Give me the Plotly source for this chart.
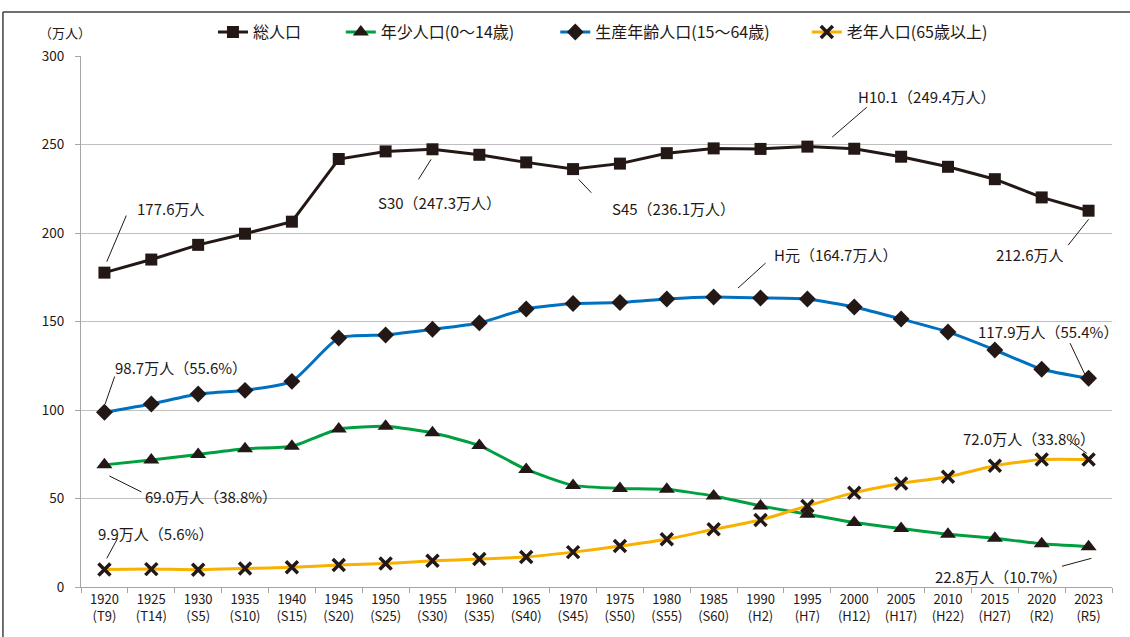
import plotly.graph_objects as go

years = ["1920", "1925", "1930", "1935", "1940", "1945", "1950", "1955", "1960", "1965", "1970",
         "1975", "1980", "1985", "1990", "1995", "2000", "2005", "2010", "2015", "2020", "2023"]
eras = ["T9", "T14", "S5", "S10", "S15", "S20", "S25", "S30", "S35", "S40", "S45",
        "S50", "S55", "S60", "H2", "H7", "H12", "H17", "H22", "H27", "R2", "R5"]

total = [177.6, 185.0, 193.3, 199.6, 206.4, 241.8, 246.1, 247.3, 244.2, 239.9, 236.1,
         239.2, 245.1, 247.8, 247.5, 248.8, 247.6, 243.1, 237.4, 230.4, 220.1, 212.6]
youth = [69.0, 71.7, 74.9, 78.1, 79.5, 89.3, 90.8, 87.1, 79.9, 66.4, 57.4,
         55.7, 55.2, 51.4, 45.8, 41.1, 36.4, 33.0, 29.8, 27.5, 24.4, 22.8]
working = [98.7, 103.4, 109.0, 111.1, 116.2, 140.7, 142.4, 145.6, 149.2, 157.1, 160.2,
           160.7, 162.7, 163.8, 163.3, 162.7, 158.2, 151.4, 144.1, 133.9, 123.0, 117.9]
elderly = [9.9, 10.1, 9.8, 10.5, 11.1, 12.4, 13.3, 14.8, 15.8, 16.9, 19.7,
           23.1, 27.0, 32.6, 37.9, 45.8, 53.3, 58.5, 62.3, 68.5, 72.0, 72.0]

labels = [y + "<br>(" + e + ")" for y, e in zip(years, eras)]

FONT = "Noto Sans CJK JP"
INK = "#231815"

fig = go.Figure()
fig.add_trace(go.Scatter(x=labels, y=total, name="総人口", mode="lines+markers", legend="legend",
                         showlegend=True,
                         line=dict(color=INK, width=3),
                         marker=dict(symbol="square", size=12, color=INK)))
fig.add_trace(go.Scatter(x=labels, y=youth, name="年少人口(0～14歳)", mode="lines+markers", legend="legend2",
                         showlegend=True,
                         line=dict(color="#00a040", width=3, shape="spline", smoothing=0.5),
                         marker=dict(symbol="triangle-up", size=14, color=INK)))
fig.add_trace(go.Scatter(x=labels, y=working, name="生産年齢人口(15～64歳)", mode="lines+markers", legend="legend3",
                         showlegend=True,
                         line=dict(color="#0070c0", width=3, shape="spline", smoothing=0.5),
                         marker=dict(symbol="diamond", size=13, color=INK)))
fig.add_trace(go.Scatter(x=labels, y=elderly, name="老年人口(65歳以上)", mode="lines+markers", legend="legend4",
                         showlegend=True,
                         line=dict(color="#f9b100", width=3, shape="spline", smoothing=0.5),
                         marker=dict(symbol="x-thin", size=12, color=INK,
                                     line=dict(color=INK, width=3.5))))

# callouts: (text, text x, text y, leader head x, head y, tail x, tail y)
callouts = [
    ("177.6万人", 1.40, 214.0, 0.05, 183.8, 0.48, 210.7),
    ("S30（247.3万人）", 7.16, 217.5, 6.97, 241.6, 6.68, 229.4),
    ("S45（236.1万人）", 12.15, 213.9, 10.12, 230.3, 10.42, 221.9),
    ("H10.1（249.4万人）", 17.56, 277.4, 15.53, 254.2, 16.30, 271.8),
    ("212.6万人", 19.73, 188.1, 21.0, 207.7, 20.54, 192.3),
    ("H元（164.7万人）", 15.59, 188.1, 13.52, 168.9, 14.14, 183.8),
    ("117.9万人（55.4%）", 20.14, 144.6, 20.95, 118.5, 20.59, 138.6),
    ("98.7万人（55.6%）", 1.64, 123.9, 0.015, 103.4, 0.23, 119.8),
    ("69.0万人（38.8%）", 2.27, 51.0, 0.107, 62.7, 0.82, 53.3),
    ("9.9万人（5.6%）", 1.09, 30.3, 0.05, 16.2, 0.30, 28.4),
    ("72.0万人（33.8%）", 19.73, 84.0, 20.96, 75.5, 20.57, 83.1),
    ("22.8万人（10.7%）", 19.13, 6.2, 21.06, 16.2, 20.40, 11.5),
]
annotations = []
for text, tx, ty, hx, hy, sx, sy in callouts:
    annotations.append(dict(x=tx, y=ty, xref="x", yref="y", text=text, showarrow=False,
                            font=dict(family=FONT, size=15, color=INK)))
    annotations.append(dict(x=hx, y=hy, ax=sx, ay=sy, xref="x", yref="y", axref="x", ayref="y",
                            text="", showarrow=True, arrowhead=0, arrowwidth=1, arrowcolor=INK))
annotations.append(dict(x=-0.0155, y=1.045, xref="paper", yref="paper", text="（万人）",
                        xanchor="center", yanchor="middle", showarrow=False,
                        font=dict(family=FONT, size=13, color=INK)))

legend_style = dict(orientation="h", y=1.045, xanchor="left", yanchor="middle",
                    font=dict(family=FONT, size=16, color=INK), bgcolor="rgba(0,0,0,0)")

fig.update_layout(
    width=1130, height=637,
    margin=dict(l=81, r=18, t=56, b=50),
    paper_bgcolor="white", plot_bgcolor="white",
    showlegend=True,
    font=dict(family=FONT, size=13, color=INK),
    legend=dict(x=0.128, **legend_style),
    legend2=dict(x=0.252, **legend_style),
    legend3=dict(x=0.46, **legend_style),
    legend4=dict(x=0.704, **legend_style),
    annotations=annotations,
    shapes=[
        dict(type="line", xref="paper", yref="paper", x0=-0.0757, x1=1.05, y0=1.0829, y1=1.0829,
             line=dict(color="#404040", width=1.5)),
        dict(type="line", xref="paper", yref="paper", x0=-0.0757, x1=-0.0757, y0=1.0829, y1=-0.2,
             line=dict(color="#404040", width=1.5)),
    ],
)
fig.update_xaxes(type="category", tickson="boundaries", range=[-0.5, len(labels) - 0.5],
                 showgrid=False, showline=True, linecolor="#a6a6a6", linewidth=1,
                 ticks="outside", ticklen=5, tickcolor="#a6a6a6", zeroline=False,
                 tickfont=dict(family=FONT, size=13, color=INK))
fig.update_yaxes(range=[0, 300], dtick=50, showgrid=True, gridcolor="#bfbfbf", gridwidth=1,
                 showline=True, linecolor="#a6a6a6", linewidth=1, ticks="outside", ticklen=5,
                 tickcolor="#a6a6a6", zeroline=False, ticklabelstandoff=8,
                 tickfont=dict(family=FONT, size=13.5, color=INK))

fig.write_html("out.html", config={"displayModeBar": False},
               post_script="document.body.style.margin='0';")
